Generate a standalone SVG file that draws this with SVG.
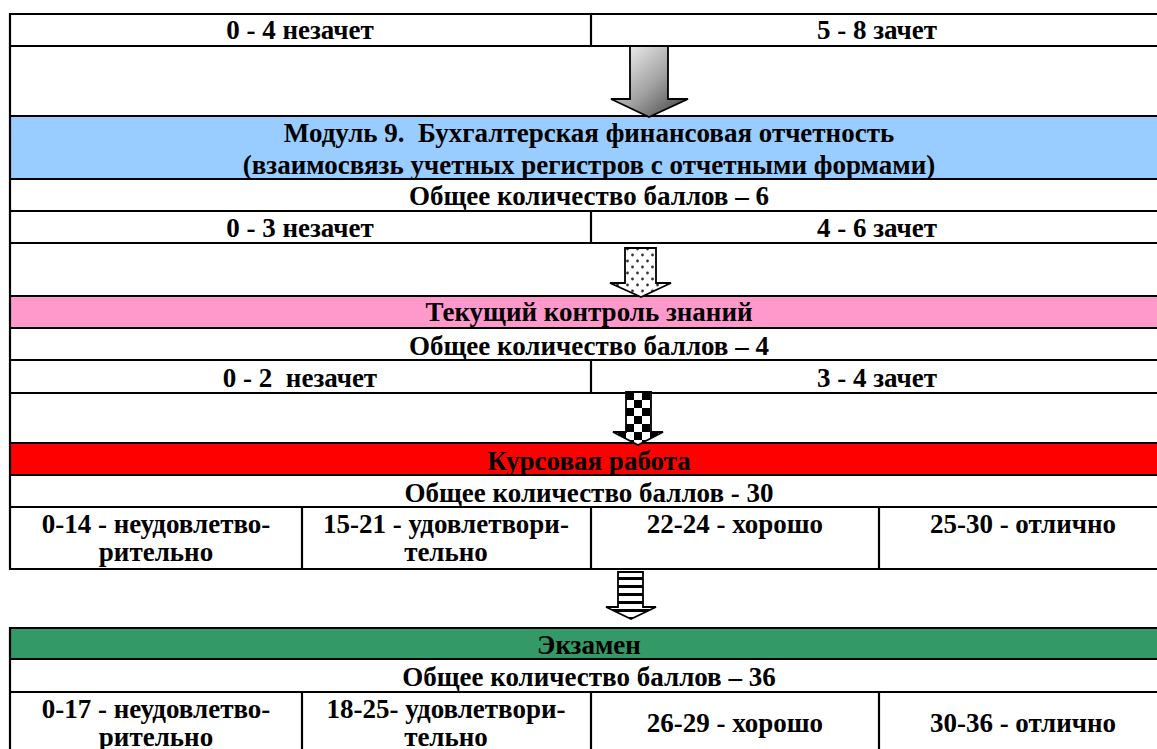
<svg xmlns="http://www.w3.org/2000/svg" width="1157" height="749" viewBox="0 0 1157 749">
<style>
.t{font-family:"Liberation Serif","Times New Roman",serif;font-weight:bold;font-size:27px;fill:#000;text-anchor:middle;white-space:pre}
.ln{stroke:#000;stroke-width:2.2;fill:none}
.ar{stroke:#000;stroke-width:1.8;stroke-linejoin:miter}
</style>
<defs>
<linearGradient id="grad" x1="0" y1="0" x2="1" y2="1">
<stop offset="0" stop-color="#ffffff"/>
<stop offset="0.55" stop-color="#a0a0a0"/>
<stop offset="1" stop-color="#3a3a3a"/>
</linearGradient>
<pattern id="dots" width="10" height="12" patternUnits="userSpaceOnUse">
<rect width="10" height="12" fill="#fff"/>
<circle cx="2.5" cy="3" r="1.4" fill="#333"/>
<circle cx="7.5" cy="9" r="1.4" fill="#333"/>
</pattern>
<pattern id="checker" width="16" height="16" patternUnits="userSpaceOnUse" x="626" y="392">
<rect width="16" height="16" fill="#fff"/>
<rect width="8" height="8" fill="#000"/>
<rect x="8" y="8" width="8" height="8" fill="#000"/>
</pattern>
<pattern id="stripes" width="10" height="8" patternUnits="userSpaceOnUse" y="572">
<rect width="10" height="8" fill="#fff"/>
<rect y="5" width="10" height="3.5" fill="#000"/>
</pattern>
</defs>
<rect width="1157" height="749" fill="#fff"/>

<g id="row-module8-scores">
<line class="ln" x1="10" y1="14" x2="1168" y2="14"/>
<line class="ln" x1="591" y1="14" x2="591" y2="46"/>
<text class="t" x="300" y="39">0 - 4 незачет</text>
<text class="t" x="877" y="39">5 - 8 зачет</text>
</g>

<g id="module9">
<rect x="10" y="116" width="1158" height="63" fill="#99ccff"/>
<text class="t" x="589" y="142" xml:space="preserve">Модуль 9.  Бухгалтерская финансовая отчетность</text>
<text class="t" x="589" y="174">(взаимосвязь учетных регистров с отчетными формами)</text>
</g>
<g id="module9-total">
<text class="t" x="589" y="205">Общее количество баллов – 6</text>
</g>
<g id="module9-scores">
<line class="ln" x1="591" y1="211" x2="591" y2="243"/>
<text class="t" x="300" y="237">0 - 3 незачет</text>
<text class="t" x="877" y="237">4 - 6 зачет</text>
</g>

<g id="current-control">
<rect x="10" y="296" width="1158" height="32" fill="#ff99cc"/>
<text class="t" x="589" y="321">Текущий контроль знаний</text>
</g>
<g id="current-total">
<text class="t" x="589" y="355">Общее количество баллов – 4</text>
</g>
<g id="current-scores">
<line class="ln" x1="591" y1="360" x2="591" y2="393"/>
<text class="t" x="300" y="387" xml:space="preserve">0 - 2  незачет</text>
<text class="t" x="877" y="387">3 - 4 зачет</text>
</g>

<g id="coursework">
<rect x="10" y="443" width="1158" height="32" fill="#ff0000"/>
<text class="t" x="589" y="470">Курсовая работа</text>
</g>
<g id="coursework-total">
<text class="t" x="589" y="502">Общее количество баллов - 30</text>
</g>
<g id="coursework-grades">
<line class="ln" x1="302" y1="507" x2="302" y2="569"/>
<line class="ln" x1="591" y1="507" x2="591" y2="569"/>
<line class="ln" x1="879" y1="507" x2="879" y2="569"/>
<text class="t" x="156" y="533">0-14 - неудовлетво-</text>
<text class="t" x="156" y="561">рительно</text>
<text class="t" x="446" y="533">15-21 - удовлетвори-</text>
<text class="t" x="446" y="561">тельно</text>
<text class="t" x="735" y="533">22-24 - хорошо</text>
<text class="t" x="1023" y="533">25-30 - отлично</text>
</g>

<g id="table-lines-top">
<line class="ln" x1="10" y1="13" x2="10" y2="570"/>
<line class="ln" x1="10" y1="46" x2="1168" y2="46"/>
<line class="ln" x1="10" y1="116" x2="1168" y2="116"/>
<line class="ln" x1="10" y1="179" x2="1168" y2="179"/>
<line class="ln" x1="10" y1="211" x2="1168" y2="211"/>
<line class="ln" x1="10" y1="243" x2="1168" y2="243"/>
<line class="ln" x1="10" y1="296" x2="1168" y2="296"/>
<line class="ln" x1="10" y1="328" x2="1168" y2="328"/>
<line class="ln" x1="10" y1="360" x2="1168" y2="360"/>
<line class="ln" x1="10" y1="393" x2="1168" y2="393"/>
<line class="ln" x1="10" y1="443" x2="1168" y2="443"/>
<line class="ln" x1="10" y1="475" x2="1168" y2="475"/>
<line class="ln" x1="10" y1="507" x2="1168" y2="507"/>
<line class="ln" x1="10" y1="569" x2="1168" y2="569"/>
</g>

<g id="exam">
<rect x="10" y="628" width="1158" height="31" fill="#339966"/>
<text class="t" x="589" y="654">Экзамен</text>
</g>
<g id="exam-total">
<text class="t" x="589" y="686">Общее количество баллов – 36</text>
</g>
<g id="exam-grades">
<line class="ln" x1="302" y1="692" x2="302" y2="760"/>
<line class="ln" x1="591" y1="692" x2="591" y2="760"/>
<line class="ln" x1="879" y1="692" x2="879" y2="760"/>
<text class="t" x="156" y="718">0-17 - неудовлетво-</text>
<text class="t" x="156" y="746">рительно</text>
<text class="t" x="446" y="718">18-25- удовлетвори-</text>
<text class="t" x="446" y="746">тельно</text>
<text class="t" x="735" y="732">26-29 - хорошо</text>
<text class="t" x="1023" y="732">30-36 - отлично</text>
</g>
<g id="table-lines-bottom">
<line class="ln" x1="10" y1="627" x2="10" y2="760"/>
<line class="ln" x1="10" y1="628" x2="1168" y2="628"/>
<line class="ln" x1="10" y1="659" x2="1168" y2="659"/>
<line class="ln" x1="10" y1="692" x2="1168" y2="692"/>
</g>

<g id="connectors">
<path class="ar" fill="url(#grad)" d="M630,46 H668 V99 H688 L649,117 L611,99 H630 Z"/>
<path class="ar" fill="url(#dots)" d="M625,248 H656 V283 H671 L641,297 L610,283 H625 Z"/>
<path class="ar" fill="url(#checker)" d="M626,392 H651 V432 H663 L638,445 L613,432 H626 Z"/>
<path class="ar" fill="url(#stripes)" d="M618,572 H643 V607 H656 L631,619 L606,607 H618 Z"/>
</g>
</svg>
